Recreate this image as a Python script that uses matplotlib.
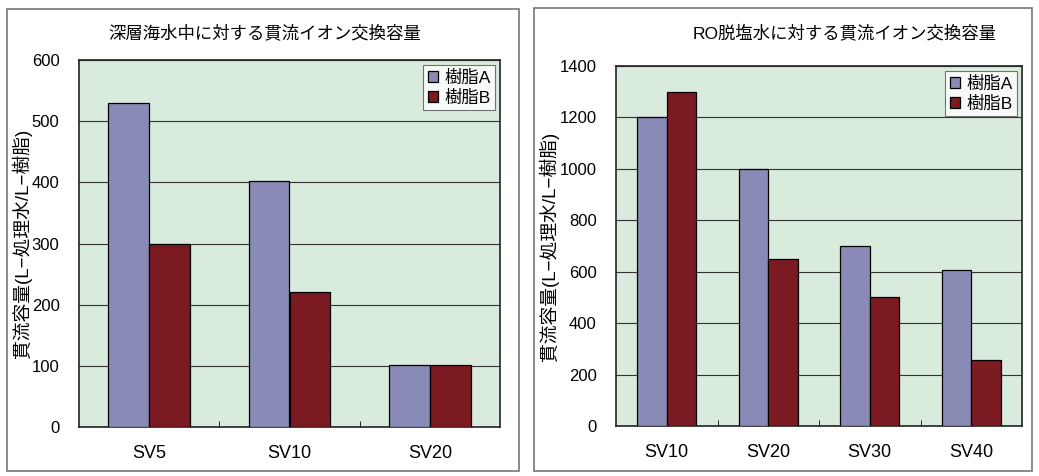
import matplotlib.pyplot as plt
import numpy as np
from matplotlib.patches import Rectangle

plt.rcParams['font.family'] = ['Liberation Sans', 'Noto Sans CJK JP', 'DejaVu Sans']

# 深層海水
sv_left = ["SV5", "SV10", "SV20"]
left_a = [530, 402, 102]
left_b = [300, 221, 102]

# RO脱塩水
sv_right = ["SV10", "SV20", "SV30", "SV40"]
right_a = [1200, 1000, 700, 605]
right_b = [1300, 650, 500, 255]

W, H = 1039, 476
fig = plt.figure(figsize=(W / 100, H / 100), dpi=100)

col_a = "#8a8ab6"
col_b = "#7b1a20"
bg = "#d9ebdd"


def box(x0, y0, x1, y1):
    fig.patches.append(Rectangle((x0 / W, 1 - y1 / H), (x1 - x0) / W, (y1 - y0) / H,
                                 transform=fig.transFigure, fill=False,
                                 edgecolor="#777777", lw=1.2))


def panel(rect, cats, a, b, ymax, step, title, title_x, ylab_x):
    l, t, r, btm = rect
    ax = fig.add_axes([l / W, 1 - btm / H, (r - l) / W, (btm - t) / H])
    ax.set_facecolor(bg)
    x = np.arange(len(cats))
    w = 0.29
    ax.bar(x - w / 2, a, w, color=col_a, edgecolor="black", lw=0.9, label="樹脂A", zorder=3)
    ax.bar(x + w / 2, b, w, color=col_b, edgecolor="black", lw=0.9, label="樹脂B", zorder=3)
    ax.set_xlim(-0.5, len(cats) - 0.5)
    ax.set_ylim(0, ymax)
    ax.set_yticks(np.arange(0, ymax + 1, step))
    ax.yaxis.grid(True, color="#333333", lw=0.8, zorder=1)
    ax.set_xticks(x)
    ax.set_xticklabels(cats, fontsize=13)
    ax.set_xticks(np.arange(0.5, len(cats) - 1, 1), minor=True)
    ax.tick_params(axis="x", which="major", length=0, pad=13)
    ax.tick_params(axis="x", which="minor", direction="in", length=4)
    ax.tick_params(axis="y", length=0, pad=14, labelsize=12)
    for s in ax.spines.values():
        s.set_color("#222222")
        s.set_linewidth(1.2)
    leg = ax.legend(loc="upper right", fontsize=12.5, frameon=True, fancybox=False,
                    edgecolor="#555555", handlelength=0.6, handleheight=0.6,
                    handletextpad=0.35, borderpad=0.25, labelspacing=0.25,
                    borderaxespad=0.3)
    leg.get_frame().set_linewidth(0.8)
    fig.text(title_x / W, 1 - 33 / H, title, ha="center", va="center", fontsize=12.5)
    fig.text(ylab_x / W, 1 - ((t + btm) / 2) / H, "貫流容量(L−処理水/L−樹脂)",
             rotation=90, ha="center", va="center", fontsize=13.5)
    return ax


box(7, 9, 519, 471)
box(534, 8, 1032, 471)

panel((79, 60, 500, 427), sv_left, left_a, left_b, 600, 100,
      "深層海水中に対する貫流イオン交換容量", 265, 22)
panel((616, 66, 1022, 426), sv_right, right_a, right_b, 1400, 200,
      "RO脱塩水に対する貫流イオン交換容量", 845, 549)

fig.savefig("out.png", dpi=100)
